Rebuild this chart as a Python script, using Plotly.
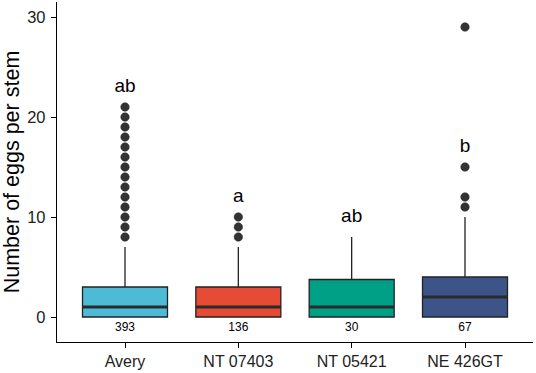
import plotly.graph_objects as go

categories = ["Avery", "NT 07403", "NT 05421", "NE 426GT"]
q1 = [0, 0, 0, 0]
median = [1, 1, 1, 2]
q3 = [3, 3, 3.75, 4]
lower_whisker = [0, 0, 0, 0]
upper_whisker = [7, 7, 8, 10]
outliers = [
    list(range(8, 22)),
    [8, 9, 10],
    [],
    [11, 12, 15, 29],
]
n_obs = ["393", "136", "30", "67"]
letters = ["ab", "a", "ab", "b"]
letter_y = [23, 12, 10, 17]
n_label_y = -1.1
colors = ["#4DBBD5", "#E64B35", "#00A087", "#3C5488"]

font = "Liberation Sans, Arial, sans-serif"
box_w = 0.75

fig = go.Figure()
for i, cat in enumerate(categories):
    fig.add_trace(go.Box(
        x=[i], q1=[q1[i]], median=[median[i]], q3=[q3[i]],
        lowerfence=[lower_whisker[i]], upperfence=[upper_whisker[i]],
        width=box_w, fillcolor=colors[i], whiskerwidth=0,
        line=dict(color="#222222", width=1.3),
        boxpoints=False, showlegend=False, hoverinfo="skip",
    ))
    # thicker median line
    fig.add_trace(go.Scatter(
        x=[i - box_w / 2, i + box_w / 2], y=[median[i], median[i]],
        mode="lines", line=dict(color="#2a2a2a", width=3),
        showlegend=False, hoverinfo="skip",
    ))
    if outliers[i]:
        fig.add_trace(go.Scatter(
            x=[i] * len(outliers[i]), y=outliers[i], mode="markers",
            marker=dict(size=8.5, color="#333333", line=dict(color="#222222", width=0.5)),
            showlegend=False, hoverinfo="skip",
        ))

fig.add_trace(go.Scatter(
    x=list(range(len(categories))), y=letter_y, mode="text", text=letters,
    textposition="middle center",
    textfont=dict(family=font, size=19, color="#000000"),
    showlegend=False, hoverinfo="skip",
))
fig.add_trace(go.Scatter(
    x=list(range(len(categories))), y=[n_label_y] * len(categories), mode="text",
    text=n_obs, textposition="middle center",
    textfont=dict(family=font, size=12, color="#000000"),
    showlegend=False, hoverinfo="skip",
))

fig.update_layout(
    width=536, height=373,
    margin=dict(l=57, r=3, t=2, b=31),
    plot_bgcolor="white", paper_bgcolor="white",
    font=dict(family=font, color="#000000"),
    xaxis=dict(
        range=[-0.6, len(categories) - 0.4], automargin=False,
        tickmode="array", tickvals=list(range(len(categories))), ticktext=categories,
        showline=True, linecolor="#000000", linewidth=1.3,
        ticks="outside", ticklen=5, tickcolor="#000000", tickwidth=1.1,
        tickfont=dict(size=16, color="#222222"),
        showgrid=False, zeroline=False,
    ),
    yaxis=dict(
        range=[-2.5, 31.5], automargin=False,
        tickvals=[0, 10, 20, 30],
        showline=True, linecolor="#000000", linewidth=1.3,
        ticks="outside", ticklen=5, tickcolor="#000000", tickwidth=1.1,
        tickfont=dict(size=16.5, color="#222222"), ticklabelstandoff=2,
        showgrid=False, zeroline=False,
        title=dict(text="Number of eggs per stem", font=dict(size=21.5, color="#000000"), standoff=4),
    ),
)

fig.write_html(
    "out.html",
    config={"displayModeBar": False},
    post_script="document.body.style.margin='0';document.body.style.overflow='hidden';",
)
